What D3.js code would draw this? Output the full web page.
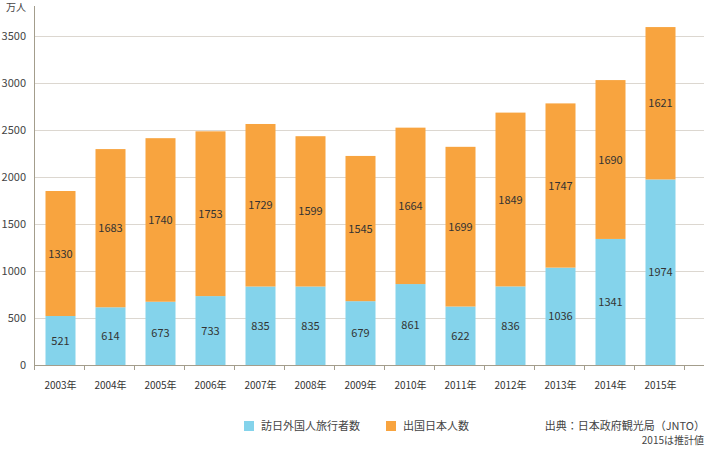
<!DOCTYPE html>
<html>
<head>
<meta charset="utf-8">
<script src="https://cdn.jsdelivr.net/npm/d3@7"></script>
<style>
  body { margin: 0; background: #fff; }
  text { font-family: "Noto Sans CJK JP", "Noto Sans", sans-serif; }
</style>
</head>
<body>
<div id="vis"></div>
<script>
const FRAME_WIDTH = 712;
const FRAME_HEIGHT = 460;

// data
const years = ["2003年", "2004年", "2005年", "2006年", "2007年", "2008年", "2009年",
               "2010年", "2011年", "2012年", "2013年", "2014年", "2015年"];
const inbound = [521, 614, 673, 733, 835, 835, 679, 861, 622, 836, 1036, 1341, 1974];
const outbound = [1330, 1683, 1740, 1753, 1729, 1599, 1545, 1664, 1699, 1849, 1747, 1690, 1621];
const yTicks = [0, 500, 1000, 1500, 2000, 2500, 3000, 3500];
const seriesNames = ["訪日外国人旅行者数", "出国日本人数"];

const BLUE = "#84d3eb";
const ORANGE = "#f8a43f";

const AXIS_X = 35;
const AXIS_END = 704;
const BASE_Y = 365;

const svg = d3.select("#vis")
  .append("svg")
    .attr("width", FRAME_WIDTH)
    .attr("height", FRAME_HEIGHT);

const X_SCALE = d3.scaleBand()
  .domain(years)
  .range([AXIS_X + 0.5, AXIS_X + 650.5])
  .paddingInner(0.4)
  .paddingOuter(0.2);

const Y_SCALE = d3.scaleLinear()
  .domain([0, 3500])
  .range([BASE_Y, 36]);

// gridlines
svg.selectAll(".grid")
  .data(yTicks.filter(d => d > 0))
  .enter()
  .append("line")
    .attr("x1", AXIS_X)
    .attr("x2", AXIS_END)
    .attr("y1", d => Y_SCALE(d) + 0.5)
    .attr("y2", d => Y_SCALE(d) + 0.5)
    .attr("stroke", "#dcd7d0")
    .attr("stroke-width", 1);

// y tick labels
svg.selectAll(".ylab")
  .data(yTicks)
  .enter()
  .append("text")
    .attr("x", 26)
    .attr("y", d => Y_SCALE(d) + 4)
    .attr("text-anchor", "end")
    .attr("font-size", 11)
    .attr("fill", "#444")
    .text(d => d);

svg.append("text")
  .attr("x", 26)
  .attr("y", 11)
  .attr("text-anchor", "end")
  .attr("font-size", 10)
  .attr("fill", "#444")
  .text("万人");

// bars
const stacks = years.map((y, i) => ({ year: y, a: inbound[i], b: outbound[i] }));

svg.selectAll(".barA")
  .data(stacks)
  .enter()
  .append("rect")
    .attr("x", d => X_SCALE(d.year))
    .attr("width", X_SCALE.bandwidth())
    .attr("y", d => Y_SCALE(d.a))
    .attr("height", d => Y_SCALE(0) - Y_SCALE(d.a))
    .attr("fill", BLUE);

svg.selectAll(".barB")
  .data(stacks)
  .enter()
  .append("rect")
    .attr("x", d => X_SCALE(d.year))
    .attr("width", X_SCALE.bandwidth())
    .attr("y", d => Y_SCALE(d.a + d.b))
    .attr("height", d => Y_SCALE(d.a) - Y_SCALE(d.a + d.b))
    .attr("fill", ORANGE);

// value labels
svg.selectAll(".labA")
  .data(stacks)
  .enter()
  .append("text")
    .attr("x", d => X_SCALE(d.year) + X_SCALE.bandwidth() / 2)
    .attr("y", d => Y_SCALE(d.a / 2) + 4)
    .attr("text-anchor", "middle")
    .attr("font-size", 11)
    .attr("fill", "#333")
    .text(d => d.a);

svg.selectAll(".labB")
  .data(stacks)
  .enter()
  .append("text")
    .attr("x", d => X_SCALE(d.year) + X_SCALE.bandwidth() / 2)
    .attr("y", d => Y_SCALE(d.a + d.b / 2) + 4)
    .attr("text-anchor", "middle")
    .attr("font-size", 11)
    .attr("fill", "#333")
    .text(d => d.b);

// axes lines
svg.append("line")
  .attr("x1", AXIS_X - 0.5).attr("x2", AXIS_X - 0.5)
  .attr("y1", 6).attr("y2", BASE_Y)
  .attr("stroke", "#a39d8c").attr("stroke-width", 1);

svg.append("line")
  .attr("x1", AXIS_X - 1).attr("x2", AXIS_END)
  .attr("y1", BASE_Y + 0.5).attr("y2", BASE_Y + 0.5)
  .attr("stroke", "#a39d8c").attr("stroke-width", 1);

// x ticks at band boundaries
const step = X_SCALE.step();
const bounds = d3.range(years.length + 1).map(i => AXIS_X + i * step);
svg.selectAll(".xtick")
  .data(bounds)
  .enter()
  .append("line")
    .attr("x1", d => d - 0.5)
    .attr("x2", d => d - 0.5)
    .attr("y1", BASE_Y)
    .attr("y2", BASE_Y + 5)
    .attr("stroke", "#a39d8c");

svg.selectAll(".xlab")
  .data(years)
  .enter()
  .append("text")
    .attr("x", d => X_SCALE(d) + X_SCALE.bandwidth() / 2)
    .attr("y", 389)
    .attr("text-anchor", "middle")
    .attr("font-size", 10)
    .attr("fill", "#333")
    .text(d => d);

// legend
const legendX = [244, 386];
const legendColors = [BLUE, ORANGE];
seriesNames.forEach((name, i) => {
  svg.append("rect")
    .attr("x", legendX[i]).attr("y", 421)
    .attr("width", 10).attr("height", 10)
    .attr("fill", legendColors[i]);
  svg.append("text")
    .attr("x", legendX[i] + 17).attr("y", 430)
    .attr("font-size", 11)
    .attr("fill", "#444")
    .text(name);
});

// source
svg.append("text")
  .attr("x", 705).attr("y", 430)
  .attr("text-anchor", "end")
  .attr("font-size", 11)
  .attr("fill", "#444")
  .text("出典：日本政府観光局（JNTO）");

svg.append("text")
  .attr("x", 704).attr("y", 444)
  .attr("text-anchor", "end")
  .attr("font-size", 10)
  .attr("fill", "#444")
  .text("2015は推計値");
</script>
</body>
</html>
